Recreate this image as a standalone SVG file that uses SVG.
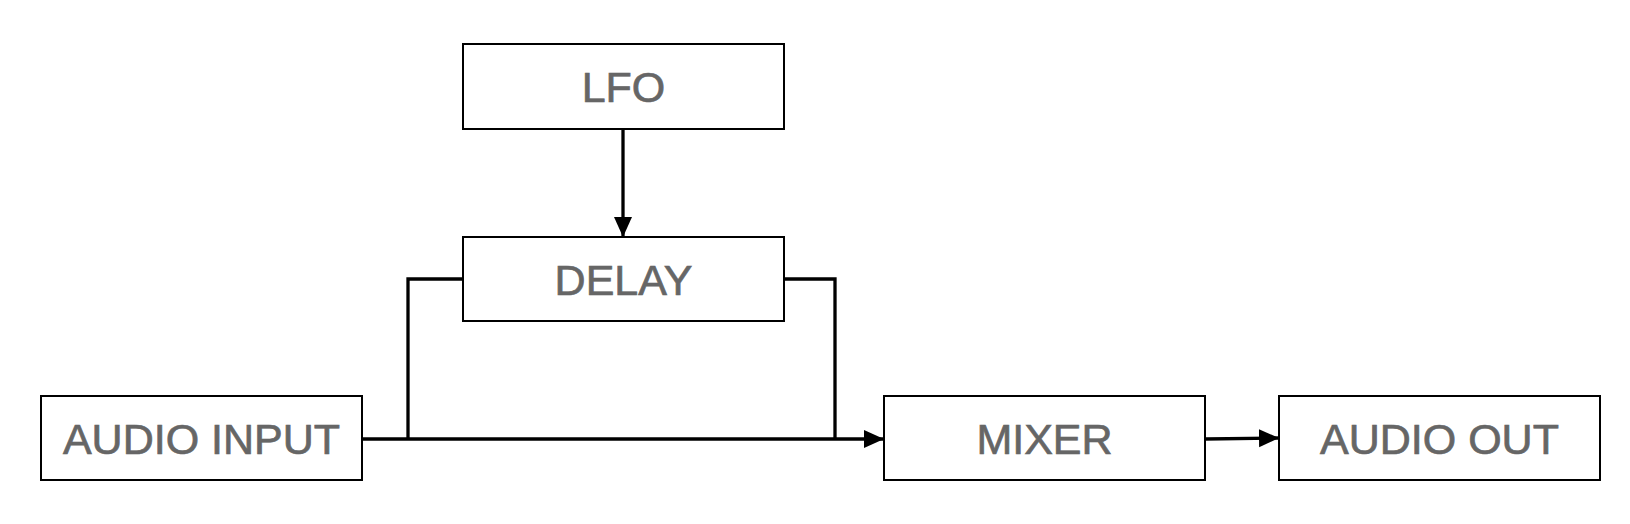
<svg xmlns="http://www.w3.org/2000/svg" width="1630" height="524" viewBox="0 0 1630 524">
<style>
.box{fill:#fff;stroke:#000;stroke-width:2}
.lbl{font-family:"Liberation Sans",Arial,sans-serif;font-size:43px;fill:#666;stroke:#666;stroke-width:0.7;text-anchor:middle}
.wire{fill:none;stroke:#000;stroke-width:3.3}
</style>
<defs>
<marker id="arr" markerUnits="userSpaceOnUse" markerWidth="22" markerHeight="20" refX="20" refY="10" orient="auto">
<path d="M0,1 L20,10 L0,19 Z" fill="#000"/>
</marker>
</defs>
<rect width="1630" height="524" fill="#fff"/>
<g id="connectors">
<path class="wire" d="M623,129 L623,237" marker-end="url(#arr)"/>
<path class="wire" d="M362,439 L884,439" marker-end="url(#arr)"/>
<path class="wire" d="M408,439 L408,279 L463,279"/>
<path class="wire" d="M784,279 L835,279 L835,439"/>
<path class="wire" d="M1205,439 L1279,438" marker-end="url(#arr)"/>
</g>
<g id="lfo"><rect class="box" x="463" y="44" width="321" height="85"/><text class="lbl" x="623.5" y="102">LFO</text></g>
<g id="delay"><rect class="box" x="463" y="237" width="321" height="84"/><text class="lbl" x="623.5" y="294.5">DELAY</text></g>
<g id="audio-input"><rect class="box" x="41" y="396" width="321" height="84"/><text class="lbl" x="201.5" y="453.5">AUDIO INPUT</text></g>
<g id="mixer"><rect class="box" x="884" y="396" width="321" height="84"/><text class="lbl" x="1044.5" y="453.5">MIXER</text></g>
<g id="audio-out"><rect class="box" x="1279" y="396" width="321" height="84"/><text class="lbl" x="1439.5" y="453.5">AUDIO OUT</text></g>
</svg>
